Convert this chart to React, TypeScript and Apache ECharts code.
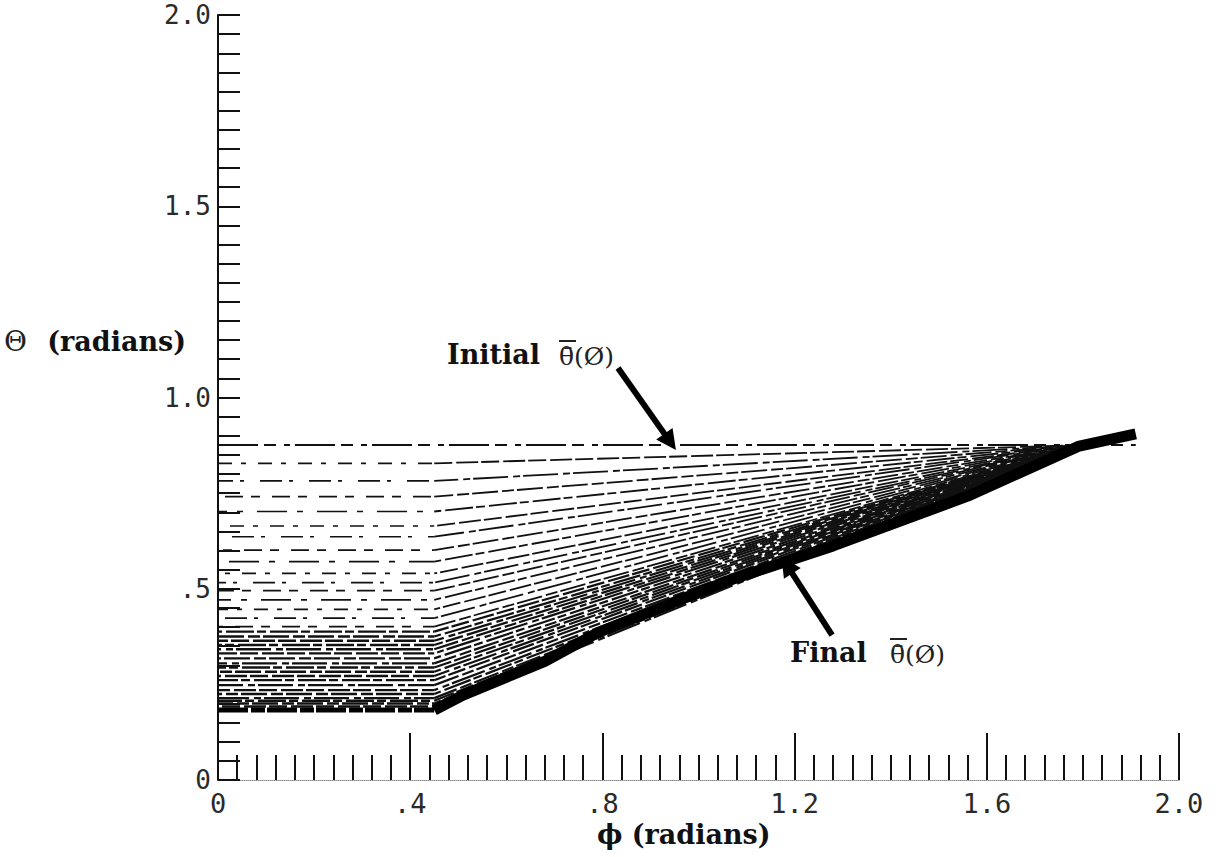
import React, { useEffect, useRef } from "react";
import * as echarts from "echarts";

// ---- data ----
const xTickValues = [0, 0.4, 0.8, 1.2, 1.6, 2.0];
const xTickLabels = ["0", ".4", ".8", "1.2", "1.6", "2.0"];
const yTickValues = [0, 0.5, 1.0, 1.5, 2.0];
const yTickLabels = ["0", ".5", "1.0", "1.5", "2.0"];

// Initial theta-bar(phi): flat line
const initialPhi = [0, 1.91];
const initialTheta = [0.876, 0.876];

// Final theta-bar(phi): lower envelope (flat part, then rising part)
const finalFlatPhi = [0, 0.45];
const finalFlatTheta = [0.183, 0.183];
const finalRisePhi = [0.45, 0.51, 0.68, 0.79, 0.93, 1.07, 1.28, 1.56, 1.79, 1.91];
const finalRiseTheta = [0.183, 0.222, 0.31, 0.385, 0.455, 0.525, 0.612, 0.742, 0.872, 0.905];

// intermediate iterates: left-side levels, common bend and meeting point
const streakLevels = [
  0.828, 0.782, 0.741, 0.702, 0.664, 0.636, 0.601, 0.571, 0.54, 0.516,
  0.495, 0.471, 0.446, 0.423, 0.401, 0.375, 0.353, 0.331, 0.305, 0.283,
  0.261, 0.235, 0.214, 0.2,
  0.388, 0.364, 0.342, 0.318, 0.294, 0.272, 0.248, 0.225, 0.207, 0.192,
];
const streakBendPhi = 0.45;
const apexPhi = 1.79;
const apexTheta = 0.875;

// annotation arrows (tail -> head) in data units
const initialArrow = [[0.8325, 1.077], [0.941, 0.884]];
const finalArrow = [[1.278, 0.379], [1.184, 0.562]];

const sparseDash = [
  [14, 9, 5, 12],
  [22, 7, 4, 16],
  [9, 12, 18, 8],
  [30, 10, 6, 14],
];
const denseDash = [
  [28, 3, 9, 4],
  [18, 4, 22, 3],
  [35, 5, 7, 3],
  [12, 3, 26, 4],
];

export default function App() {
  const ref = useRef<HTMLDivElement>(null);

  useEffect(() => {
    if (!ref.current) return;
    const chart = echarts.init(ref.current, undefined, { renderer: "svg" });

    const streakSeries: any[] = [];
    streakLevels.forEach((L, i) => {
      const low = L < 0.4;
      streakSeries.push({
        type: "line",
        data: [[0, L], [streakBendPhi, L]],
        symbol: "none",
        silent: true,
        z: 2,
        lineStyle: {
          color: "#111",
          width: low ? 2.4 : 1.7,
          type: low ? denseDash[i % 4] : sparseDash[i % 4],
          dashOffset: i * 7,
        },
      });
      streakSeries.push({
        type: "line",
        data: [[streakBendPhi, L], [apexPhi, apexTheta]],
        symbol: "none",
        silent: true,
        z: 2,
        lineStyle: {
          color: "#111",
          width: low ? 2.2 : 1.8,
          type: denseDash[(i + 1) % 4],
          dashOffset: i * 11,
        },
      });
    });

    const labelFont = {
      fontFamily: "DejaVu Sans Mono",
      fontSize: 27,
      color: "#2a2a2a",
    };
    const boldSerif = { fontFamily: "DejaVu Serif", fontWeight: "bold", fontSize: 27, fill: "#111" };
    const thinSerif = { fontFamily: "DejaVu Serif", fontSize: 25, fill: "#222" };

    const option: any = {
      animation: false,
      backgroundColor: "#ffffff",
      grid: { left: 218, right: 44, top: 15, bottom: 77 },
      xAxis: {
        type: "value",
        min: 0,
        max: 2.0,
        interval: 0.4,
        splitLine: { show: false },
        axisLine: { show: true, lineStyle: { color: "#888", width: 1, type: "dotted" } },
        axisTick: { show: true, inside: true, length: 47, lineStyle: { color: "#111", width: 2 } },
        minorTick: { show: true, splitNumber: 10, length: 25, lineStyle: { color: "#111", width: 2 } },
        axisLabel: {
          ...labelFont,
          margin: 10,
          formatter: (v: number) => {
            const k = xTickValues.findIndex((t) => Math.abs(t - v) < 1e-6);
            return k >= 0 ? xTickLabels[k] : "";
          },
        },
      },
      yAxis: {
        type: "value",
        min: 0,
        max: 2.0,
        interval: 0.5,
        splitLine: { show: false },
        axisLine: { show: true, lineStyle: { color: "#111", width: 2 } },
        axisTick: { show: true, inside: true, length: 22, lineStyle: { color: "#111", width: 2 } },
        minorTick: { show: true, splitNumber: 10, length: 22, lineStyle: { color: "#111", width: 2 } },
        axisLabel: {
          ...labelFont,
          fontSize: 26,
          margin: 7,
          formatter: (v: number) => {
            const k = yTickValues.findIndex((t) => Math.abs(t - v) < 1e-6);
            return k >= 0 ? yTickLabels[k] : "";
          },
        },
      },
      series: [
        ...streakSeries,
        {
          type: "line",
          name: "Initial",
          data: initialPhi.map((p, i) => [p, initialTheta[i]]),
          symbol: "none",
          silent: true,
          z: 3,
          lineStyle: { color: "#111", width: 2, type: [40, 6, 12, 8, 6, 5] },
        },
        {
          type: "line",
          name: "Final flat",
          data: finalFlatPhi.map((p, i) => [p, finalFlatTheta[i]]),
          symbol: "none",
          silent: true,
          z: 4,
          lineStyle: { color: "#000", width: 5, type: [30, 3, 14, 2] },
        },
        {
          type: "line",
          name: "Final",
          data: finalRisePhi.map((p, i) => [p, finalRiseTheta[i]]),
          symbol: "none",
          silent: true,
          z: 4,
          lineStyle: { color: "#000", width: 11 },
        },
        {
          type: "lines",
          coordinateSystem: "cartesian2d",
          silent: true,
          z: 6,
          symbol: ["none", "triangle"],
          symbolSize: [0, 20],
          lineStyle: { color: "#000", width: 6, opacity: 1, curveness: 0 },
          data: [{ coords: initialArrow }, { coords: finalArrow }],
        },
      ],
      graphic: [
        // y axis title
        { type: "text", x: 4, y: 341, style: { ...thinSerif, fontSize: 28, text: "Θ", verticalAlign: "middle" } },
        { type: "text", x: 186, y: 341, style: { ...boldSerif, text: "(radians)", align: "right", verticalAlign: "middle" } },
        // x axis title
        { type: "text", x: 597, y: 834, style: { ...boldSerif, text: "ϕ (radians)", verticalAlign: "middle" } },
        // Initial annotation
        { type: "text", x: 447, y: 354, style: { ...boldSerif, text: "Initial", verticalAlign: "middle" } },
        { type: "text", x: 559, y: 356, style: { ...thinSerif, text: "θ̄(Ø)", verticalAlign: "middle" } },
        { type: "line", shape: { x1: 559, y1: 341, x2: 576, y2: 341 }, style: { stroke: "#222", lineWidth: 2 } },
        // Final annotation
        { type: "text", x: 790, y: 652, style: { ...boldSerif, text: "Final", verticalAlign: "middle" } },
        { type: "text", x: 890, y: 654, style: { ...thinSerif, text: "θ̄(Ø)", verticalAlign: "middle" } },
        { type: "line", shape: { x1: 890, y1: 639, x2: 907, y2: 639 }, style: { stroke: "#222", lineWidth: 2 } },
      ],
    };

    chart.setOption(option);
    return () => chart.dispose();
  }, []);

  return (
    <div
      ref={ref}
      style={{ position: "absolute", left: 0, top: 0, width: 1223, height: 857, background: "#fff" }}
    />
  );
}
